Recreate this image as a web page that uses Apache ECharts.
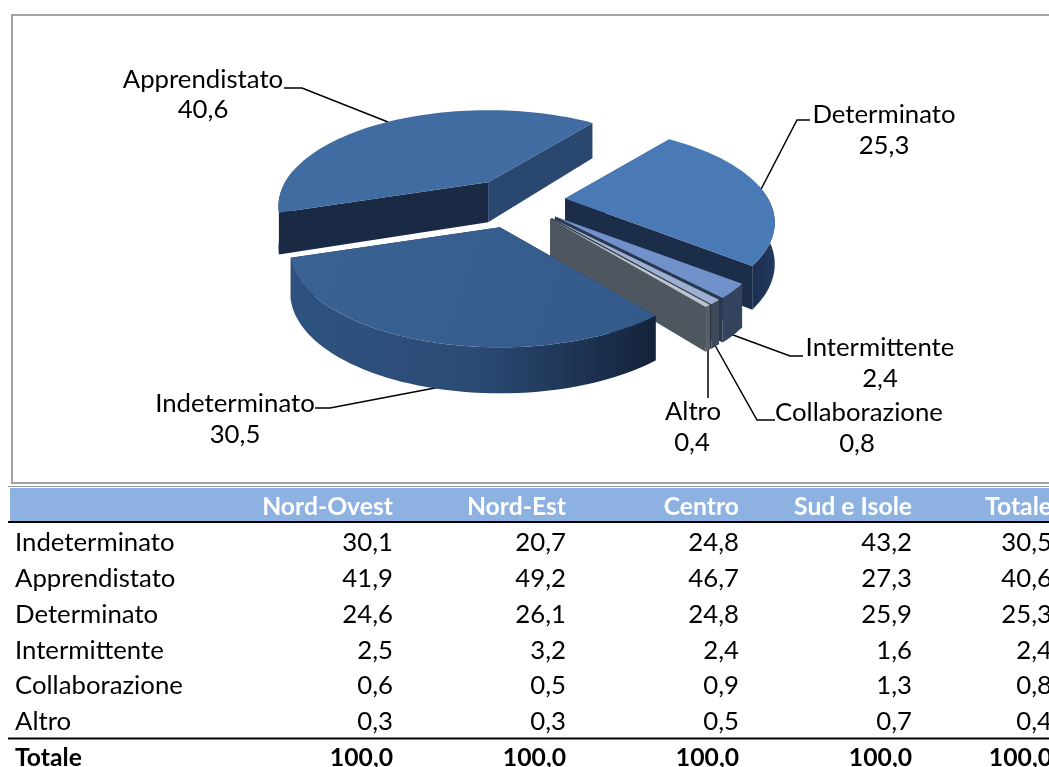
<!DOCTYPE html>
<html><head><meta charset="utf-8">
<style>html,body{margin:0;padding:0;background:#fff}#c{width:1049px;height:767px}</style>
<script src="https://cdn.jsdelivr.net/npm/echarts@6/dist/echarts.min.js"></script>
</head><body><div id="c"></div>
<script>
var regions = ['Nord-Ovest','Nord-Est','Centro','Sud e Isole','Totale'];
var rowNames = ['Indeterminato','Apprendistato','Determinato','Intermittente','Collaborazione','Altro'];
var rowIndeterminato = [30.1,20.7,24.8,43.2,30.5];
var rowApprendistato = [41.9,49.2,46.7,27.3,40.6];
var rowDeterminato = [24.6,26.1,24.8,25.9,25.3];
var rowIntermittente = [2.5,3.2,2.4,1.6,2.4];
var rowCollaborazione = [0.6,0.5,0.9,1.3,0.8];
var rowAltro = [0.3,0.3,0.5,0.7,0.4];
var rowTotale = [100.0,100.0,100.0,100.0,100.0];
var rows = [rowIndeterminato,rowApprendistato,rowDeterminato,rowIntermittente,rowCollaborazione,rowAltro];
var totalLabel = 'Totale';
var pieValues = rows.map(function(r){return r[4];});
var drawOrder = [1,2,3,4,5,0];

var FONT = 'Lato, Carlito, "Open Sans", sans-serif';
var fmt = function(v){return v.toFixed(1).replace('.',',');};
var cx=518, cy=201, R=203, Ry=90, persp=0.25, H=40, startDeg=142;
var explode=[0.285,0.27,0.235,0.24,0.24,0.24];
var sumV = pieValues.reduce(function(a,b){return a+b;},0);

var sliceStyle = [
 {top:['#3a6293','#335a8a'], band:[['#2e5280',0],['#2b4b75',0.5],['#14233a',1]], a:'#1b2b45', b:'#1b2b45'},
 {top:['#406ca2','#406ca2'], band:[['#1a2a44',0],['#1a2a44',1]], a:'#1a2a44', b:'#2a4770'},
 {top:['#4a7ab6','#4a7ab6'], band:[['#1c3050',0],['#22395e',1]], a:'#2a4770', b:'#1c2d4a'},
 {top:['#7191ca','#7191ca'], band:[['#34435e',0],['#34435e',1]], a:'#2a3750', b:'#2a3750'},
 {top:['#9db0d2','#9db0d2'], band:[['#3d4a5c',0],['#3d4a5c',1]], a:'#2e3644', b:'#2e3644'},
 {top:['#bcc4ce','#bcc4ce'], band:[['#595f68',0],['#595f68',1]], a:'#4e5660', b:'#4e5660'}
];

function proj(u,v){
  var w=1-persp*v;
  return [cx+R*u/w, cy+Ry*v/w];
}
function renderSlice(params, api){
  var idx=api.value(1), val=api.value(0);
  var before=0; for(var i=0;i<idx;i++) before+=pieValues[i];
  var a0=startDeg+before/sumV*360, a1=a0+val/sumV*360, mid=(a0+a1)/2*Math.PI/180;
  var expl=explode[idx];
  var apex=proj(expl*Math.sin(mid), -expl*Math.cos(mid));
  var dx=apex[0]-cx, dy=apex[1]-cy;
  function rim(deg,zf){
    var t=deg*Math.PI/180, u=Math.sin(t), v=-Math.cos(t), p=proj(u,v);
    return [p[0]+dx, p[1]+dy+(zf?H*(1+0.15*v):0)];
  }
  var apexLow=[apex[0],apex[1]+H];
  var st=sliceStyle[idx], top=[apex], low=[], up=[], n=Math.max(4,Math.ceil((a1-a0)/2));
  for(var k=0;k<=n;k++){
    var d=a0+(a1-a0)*k/n, t=rim(d,false);
    top.push(t);
    if(Math.cos(d*Math.PI/180)<0.15){ up.push(t); low.unshift(rim(d,true)); }
  }
  var face=function(d,fill){
    return {type:'polygon',shape:{points:[apex,rim(d,false),rim(d,true),apexLow]},style:{fill:fill}};
  };
  var kids=[face(a0,st.a),face(a1,st.b)];
  if(up.length>1){
    kids.push({type:'polygon',shape:{points:up.concat(low)},style:{fill:{type:'linear',x:0,y:0,x2:1,y2:0,
      colorStops:st.band.map(function(s){return {offset:s[1],color:s[0]};})}}});
  }
  kids.push({type:'polygon',shape:{points:top},style:{fill:{type:'linear',x:0,y:0,x2:1,y2:1,
    colorStops:[{offset:0,color:st.top[0]},{offset:1,color:st.top[1]}]}}});
  return {type:'group',children:kids};
}

var els=[];
function txt(x,y,s,align,opt){
  opt=opt||{};
  els.push({type:'text',x:x,y:y+1,z:5,scaleX:1.03,style:{text:s,fill:opt.fill||'#000',font:(opt.bold?'bold 24px ':'25px ')+FONT,textAlign:align,textVerticalAlign:'middle'}});
}
function line(pts,color,w){
  els.push({type:'polyline',z:2,shape:{points:pts},style:{stroke:color,lineWidth:w,fill:null}});
}
els.push({type:'rect',z:1,shape:{x:12,y:15,width:1050,height:468},style:{fill:'#fff',stroke:'#a3a3a3',lineWidth:2}});
els.push({type:'rect',z:1,shape:{x:10,y:488,width:1045,height:34},style:{fill:'#8db2e2'}});
line([[8,486.5],[1049,486.5]],'#9a9a9a',1);
line([[8,522],[1049,522]],'#000',2);
line([[8,738.5],[1049,738.5]],'#000',2);
var colX=[393,566,739,912,1052];
var rowY=[542,578,614,650,685,721];
regions.forEach(function(r,j){txt(colX[j],506,r,'right',{fill:'#fff',bold:true});});
rowNames.forEach(function(n,i){
  txt(15,rowY[i],n,'left');
  rows[i].forEach(function(v,j){txt(colX[j],rowY[i],fmt(v),'right');});
});
txt(15,757,totalLabel,'left',{bold:true});
rowTotale.forEach(function(v,j){txt(colX[j],757,fmt(v),'right',{bold:true});});
var labelPos=[[235,403,235,434],[203,79,203,109],[884,114,884,145],[880,347,880,378],[859,412,857,443],[693,411,692,442]];
rowNames.forEach(function(n,i){
  var p=labelPos[i];
  txt(p[0],p[1],n,'center');
  txt(p[2],p[3],fmt(pieValues[i]),'center');
});
line([[315,408],[330,408],[440,387]],'#000',1.5);
line([[284,88],[302,88],[388,122]],'#000',1.5);
line([[810,120],[797,120],[757,197]],'#000',1.5);
line([[725,332],[790,356],[803,356]],'#000',1.5);
line([[712,340],[757,420],[775,420]],'#000',1.5);
line([[708,345],[708,398]],'#000',1.5);

var chart=echarts.init(document.getElementById('c'),null,{renderer:'canvas'});
chart.setOption({
  animation:false,
  backgroundColor:'#fff',
  graphic:{elements:els},
  series:[{type:'custom',coordinateSystem:'none',z:3,silent:true,renderItem:renderSlice,
    encode:{value:0},
    data:drawOrder.map(function(i){return [pieValues[i],i];})}]
});
</script></body></html>
